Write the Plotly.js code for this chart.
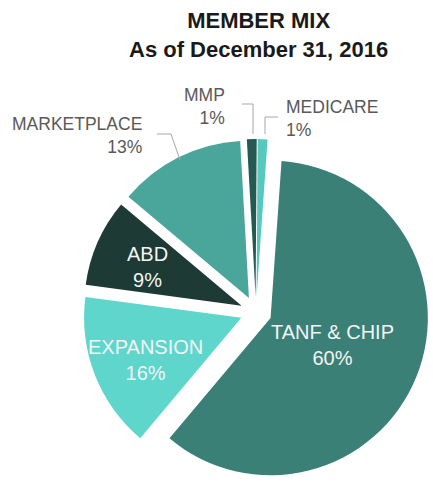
<!DOCTYPE html>
<html>
<head>
<meta charset="utf-8">
<script src="https://cdn.plot.ly/plotly-3.0.1.min.js"></script>
<style>html,body{margin:0;padding:0;background:#fff;}#chart{width:433px;height:485px;}</style>
</head>
<body>
<div id="chart"></div>
<script>
const categories = ['TANF & CHIP', 'EXPANSION', 'ABD', 'MARKETPLACE', 'MMP', 'MEDICARE'];
const shares = [60, 16, 9, 13, 1, 1];
const sliceColors = ['#3a8076', '#5fd6cc', '#1d3a35', '#4aa59a', '#245a52', '#55c9bd'];
const pulls = [0.1, 0.1, 0.1, 0.1, 0.1, 0.1];
const titleLines = ['MEMBER MIX', 'As of December 31, 2016'];

const FONT = 'Liberation Sans, Arial, sans-serif';
const W = 433, H = 485;
const px = v => v / W;
const py = v => 1 - v / H;

const trace = {
  type: 'pie',
  labels: categories,
  values: shares,
  sort: false,
  direction: 'clockwise',
  rotation: 4,
  pull: pulls,
  marker: {colors: sliceColors, line: {width: 0}},
  textinfo: 'none',
  automargin: false,
  domain: {x: [0.1824, 1.0], y: [0.0, 0.7134]},
  showlegend: false,
  hoverinfo: 'none'
};

const sliceLabel = i => categories[i] + '<br>' + shares[i] + '%';
const inFont = {family: FONT, size: 20, color: '#f4f4f4'};
const outFont = {family: FONT, size: 17.5, color: '#595959'};

// label placement: [slice index, x px, y px, anchor, font]
const labelSpots = [
  [0, 332, 345, 'center', inFont],
  [1, 145, 360, 'center', inFont],
  [2, 147, 267, 'center', inFont],
  [3, 144, 135, 'right', outFont],
  [4, 227, 106, 'right', outFont],
  [5, 284, 118, 'left', outFont]
];

const annotations = [
  {text: '<b>' + titleLines[0] + '</b><br><b>' + titleLines[1] + '</b>',
   x: px(258), y: py(6), xref: 'paper', yref: 'paper', xanchor: 'center', yanchor: 'top',
   showarrow: false, font: {family: FONT, size: 22, color: '#1a1a1a'}}
].concat(labelSpots.map(s => ({
  text: sliceLabel(s[0]), x: px(s[1]), y: py(s[2]), xref: 'paper', yref: 'paper',
  xanchor: s[3], yanchor: 'middle', align: s[3], showarrow: false, font: s[4]
})));

const leader = {color: '#a6a6a6', width: 1};
const path = pts => 'M ' + pts.map(p => px(p[0]) + ',' + py(p[1])).join(' L ');
const shapes = [
  {type: 'path', xref: 'paper', yref: 'paper', path: path([[157, 134], [171, 134], [180, 160]]), line: leader},
  {type: 'path', xref: 'paper', yref: 'paper', path: path([[242, 104], [253, 104], [253, 134]]), line: leader},
  {type: 'path', xref: 'paper', yref: 'paper', path: path([[278, 117], [265, 117], [265, 134]]), line: leader}
];

const layout = {
  width: W,
  height: H,
  margin: {l: 0, r: 0, t: 0, b: 0},
  paper_bgcolor: '#ffffff',
  annotations: annotations,
  shapes: shapes
};

Plotly.newPlot('chart', [trace], layout, {displayModeBar: false, staticPlot: true});
</script>
</body>
</html>
